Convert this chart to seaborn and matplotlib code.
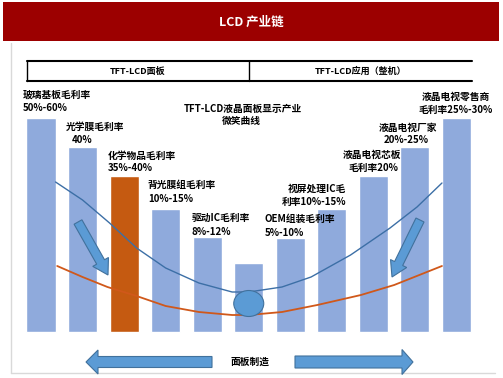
import matplotlib
matplotlib.use("Agg")
import matplotlib.pyplot as plt
from matplotlib.patches import Rectangle, FancyArrow, Ellipse
import seaborn as sns
import pandas as pd

# ---------------- data ----------------
segments = ["玻璃基板", "光学膜", "化学物品", "背光膜组", "驱动IC", "面板",
            "OEM组装", "视屏处理IC", "液晶电视芯板", "液晶电视厂家", "液晶电视零售商"]
bar_heights = [214, 185, 156, 123, 95, 69, 94, 123, 156, 185, 214]
highlight = "化学物品"

blue_curve_x = [0.35, 1.0, 1.65, 2.3, 3.0, 3.8, 4.6, 5.0, 5.8, 6.5, 7.45, 8.4, 9.05, 9.65]
blue_curve_y = [150, 132, 109, 84, 64, 49, 40, 40, 45, 55, 77, 104, 125, 149]
orange_curve_x = [0.39, 1.0, 1.6, 2.3, 3.0, 3.8, 4.6, 5.0, 5.8, 6.65, 7.7, 8.5, 9.65]
orange_curve_y = [66, 55, 45, 36, 26, 20, 17, 17, 20, 27, 37, 47, 66]

title = "LCD 产业链"
header_left = "TFT-LCD面板"
header_right = "TFT-LCD应用（整机）"
center_title = ["TFT-LCD液晶面板显示产业", "微笑曲线"]
bottom_label = "面板制造"
label_lines = [
    ("玻璃基板毛利率", "50%-60%"),
    ("光学膜毛利率", "40%"),
    ("化学物品毛利率", "35%-40%"),
    ("背光膜组毛利率", "10%-15%"),
    ("驱动IC毛利率", "8%-12%"),
    ("OEM组装毛利率", "5%-10%"),
    ("视屏处理IC毛", "利率10%-15%"),
    ("液晶电视芯板", "毛利率20%"),
    ("液晶电视厂家", "20%-25%"),
    ("液晶电视零售商", "毛利率25%-30%"),
]

# ---------------- layout (pixels) ----------------
W, H = 503, 378
label_pos = [
    ((23, 95, "left"), (23, 108, "left")),
    ((66, 127, "left"), (72, 140, "left")),
    ((108, 156, "left"), (108, 168, "left")),
    ((148, 185, "left"), (148, 199, "left")),
    ((192, 218, "left"), (192, 232, "left")),
    ((265, 219, "left"), (265, 233, "left")),
    ((346, 189, "right"), (346, 202, "right")),
    ((372, 155, "center"), (373, 168, "center")),
    ((408, 128, "center"), (429, 140, "right")),
    ((456, 97, "center"), (456, 110, "center")),
]

sns.set_theme(style="white")
plt.rcParams["font.family"] = ["Noto Sans CJK SC", "DejaVu Sans"]
plt.rcParams["text.color"] = "black"

fig = plt.figure(figsize=(W / 100, H / 100), dpi=100)
fig.patch.set_facecolor("white")

# main data axes: bar i centred at px 41 + 41.55*i, bar base at py 332
ax = fig.add_axes([0, 0, 1, 1])
ax.set_facecolor("none")
df = pd.DataFrame({"segment": segments, "height": bar_heights})
colors = ["#C55A11" if s == highlight else "#8FAADC" for s in segments]
sns.barplot(data=df, x="segment", y="height", hue="segment", palette=colors,
            legend=False, width=0.70, saturation=1, ax=ax, zorder=2)
sns.lineplot(x=blue_curve_x, y=blue_curve_y, color="#3C6FA6", lw=1.0,
             estimator=None, sort=False, ax=ax, zorder=3)
sns.lineplot(x=orange_curve_x, y=orange_curve_y, color="#D0581A", lw=1.3,
             estimator=None, sort=False, ax=ax, zorder=3)
ell_y = (min(blue_curve_y) + min(orange_curve_y)) / 2
ax.add_patch(Ellipse((segments.index("面板"), ell_y), 30 / 41.55, 26,
                     facecolor="#5B9BD5", edgecolor="#41719C", lw=0.8, zorder=4))
ax.set_xlim(-41 / 41.55, (W - 41) / 41.55)
ax.set_ylim(332 - H, 332)
ax.axis("off")

# overlay axes in pixel coordinates for decorations and text
ov = fig.add_axes([0, 0, 1, 1])
ov.set_facecolor("none")
ov.set_xlim(0, W)
ov.set_ylim(H, 0)
ov.axis("off")

# title bar
ov.add_patch(Rectangle((3, 2), 496, 39, facecolor="#9C0000", edgecolor="none"))
ov.text(251, 22, title, color="white", fontsize=9, fontweight="bold",
        ha="center", va="center")

# frame
ov.plot([11.5, 11.5], [43, 373], color="#D9D9D9", lw=1)
ov.plot([11.5, 495], [373, 373], color="#D9D9D9", lw=1)

# header boxes
ov.plot([27, 472], [61, 61], color="black", lw=1.5)
ov.plot([27, 472], [81, 81], color="black", lw=1.5)
ov.plot([27, 27], [61, 81], color="black", lw=1.0)
ov.plot([249.5, 249.5], [61, 81], color="black", lw=1.0)
ov.text(138, 71, header_left, fontsize=6.5, fontweight="bold", color="black",
        ha="center", va="center")
ov.text(361, 71, header_right, fontsize=6.5, fontweight="bold", color="black",
        ha="center", va="center")

# labels
for (l1, l2), (p1, p2) in zip(label_lines, label_pos):
    ov.text(p1[0], p1[1], l1, fontsize=7, fontweight="bold", color="black",
            ha=p1[2], va="center")
    ov.text(p2[0], p2[1], l2, fontsize=7, fontweight="bold", color="black",
            ha=p2[2], va="center")

ov.text(243, 109, center_title[0], fontsize=7, fontweight="bold", color="black",
        ha="center", va="center")
ov.text(241, 121, center_title[1], fontsize=7, fontweight="bold", color="black",
        ha="center", va="center")

# arrows
akw = dict(facecolor="#5B9BD5", edgecolor="#41719C", lw=0.8,
           length_includes_head=True, zorder=5)
ov.add_patch(FancyArrow(78, 222, 30, 53, width=9, head_width=18, head_length=15, **akw))
ov.add_patch(FancyArrow(420, 220, -28, 57, width=9, head_width=18, head_length=15, **akw))
ov.add_patch(FancyArrow(212, 362, -126, 0, width=11, head_width=24, head_length=12, **akw))
ov.add_patch(FancyArrow(295, 362, 118, 0, width=12, head_width=25, head_length=11, **akw))
ov.text(250, 362, bottom_label, fontsize=7, fontweight="bold", color="black",
        ha="center", va="center")

fig.savefig("out.png", dpi=100)
